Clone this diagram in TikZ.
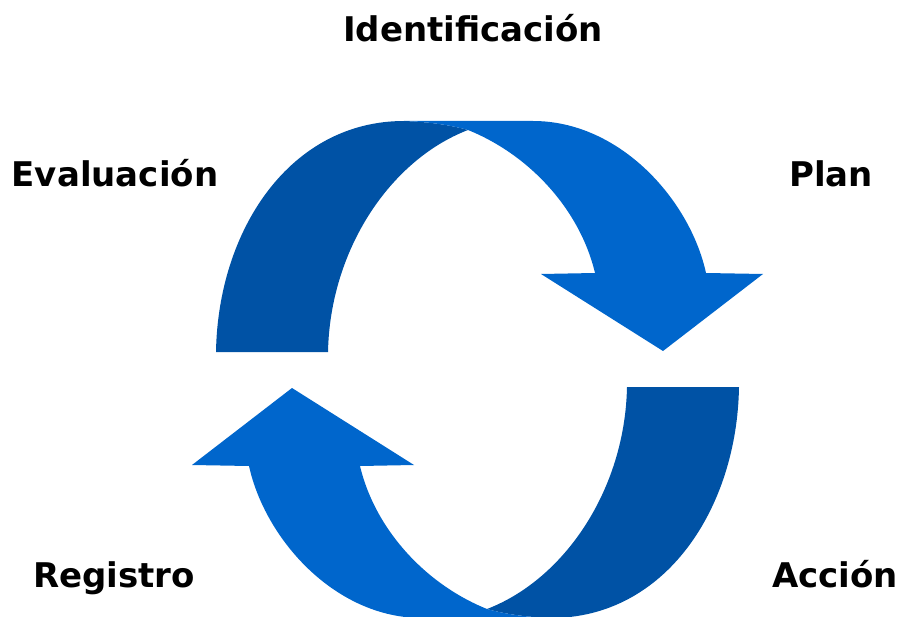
\documentclass[tikz,border=0pt]{standalone}
\usepackage{fontspec}
\setmainfont{DejaVu Sans}
\definecolor{bandback}{RGB}{0,82,165}
\definecolor{bandfront}{RGB}{0,102,204}

\begin{document}
\begin{tikzpicture}[x=1pt,y=-1pt]
        % Define styles for the bands and the labels
        \tikzstyle{back}=[fill=bandback]
        \tikzstyle{front}=[fill=bandfront]
        \tikzstyle{stage}=[font=\fontsize{34}{40}\selectfont\bfseries,anchor=base,inner sep=0pt]

        % Frame of the picture
        \useasboundingbox (0,0) rectangle (899,617);
        \clip (0,0) rectangle (899,617);

        % Draw the two curved arrows, the lower one turned half round
        \foreach \ang in {0,180} {
        \begin{scope}[rotate around={\ang:(477.5,369.5)}]
        \fill[back] (216,352) .. controls (218,230) and (290,121) .. (404,121) .. controls (430,122) and (450,125) .. (468,130) .. controls (390,160) and (330,250) .. (328,352) -- cycle;
        \fill[front] (404,121) -- (533,121) .. controls (620,121) and (690,200) .. (706,273) -- (763,274) -- (663,351) -- (541,274) -- (595,273) .. controls (580,210) and (530,155) .. (468,130) .. controls (450,125) and (430,122) .. (404,121) -- cycle;
        \end{scope}
        }

        % Stage labels
        \node[stage] (ident) at (473,42) {Identificación};
        \node[stage] (plan) at (831,187) {Plan};
        \node[stage] (accion) at (835,587) {Acción};
        \node[stage] (registro) at (114,587) {Registro};
        \node[stage] (evaluacion) at (115,187) {Evaluación};
\end{tikzpicture}
\end{document}
